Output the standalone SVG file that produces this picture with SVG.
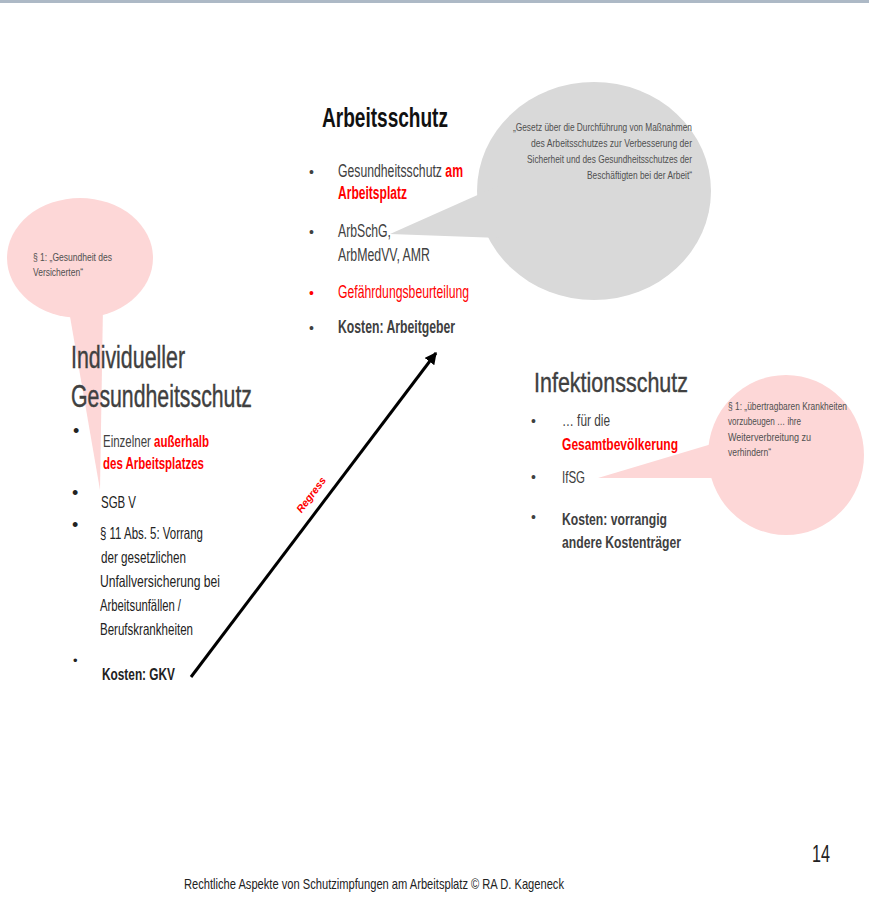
<svg xmlns="http://www.w3.org/2000/svg" width="869" height="897" viewBox="0 0 869 897">
<defs>
<style>
text{font-family:"Liberation Sans Narrow","Liberation Sans",Arial,sans-serif;}
.g{fill:#404040}
.k{fill:#222}
.r{fill:#ff0000}
.b{font-weight:bold}
.h{stroke:#404040;stroke-width:0.4}
.s{font-size:17.5px}
.m{font-size:16.5px}
.c{font-size:11.5px;fill:#505050}
.pink{fill:#fdd7d7}
.grey{fill:#d9d9d9}
</style>
<marker id="ah" viewBox="0 0 10 10" refX="9" refY="5" markerWidth="4" markerHeight="4" orient="auto" markerUnits="strokeWidth">
<path d="M0,0 L10,5 L0,10 z" fill="#000"/>
</marker>
</defs>
<rect width="869" height="897" fill="#fff"/>
<rect x="0" y="0" width="869" height="3" fill="#adb9c6"/>

<g id="callout-arbschg">
<ellipse class="grey" cx="594" cy="191" rx="117" ry="109"/>
<polygon class="grey" points="390,234 500,185 500,238"/>
<text class="c" x="513" y="131" textLength="179" lengthAdjust="spacingAndGlyphs">„Gesetz über die Durchführung von Maßnahmen</text>
<text class="c" x="531" y="147" textLength="161" lengthAdjust="spacingAndGlyphs">des Arbeitsschutzes zur Verbesserung der</text>
<text class="c" x="527" y="163" textLength="165" lengthAdjust="spacingAndGlyphs">Sicherheit und des Gesundheitsschutzes der</text>
<text class="c" x="587" y="179" textLength="105" lengthAdjust="spacingAndGlyphs">Beschäftigten bei der Arbeit“</text>
</g>

<g id="callout-sgb">
<ellipse class="pink" cx="80" cy="258" rx="73" ry="60"/>
<polygon class="pink" points="68,305 103,305 100,490"/>
<text class="c" x="33" y="261" textLength="79" lengthAdjust="spacingAndGlyphs">§ 1: „Gesundheit des</text>
<text class="c" x="33" y="276" textLength="50" lengthAdjust="spacingAndGlyphs">Versicherten“</text>
</g>

<g id="callout-ifsg">
<ellipse class="pink" cx="786" cy="455" rx="78" ry="80"/>
<polygon class="pink" points="598,478 725,440 725,478"/>
<text class="c" x="728" y="410" textLength="119" lengthAdjust="spacingAndGlyphs">§ 1: „übertragbaren Krankheiten</text>
<text class="c" x="728" y="425" textLength="73" lengthAdjust="spacingAndGlyphs">vorzubeugen … ihre</text>
<text class="c" x="728" y="441" textLength="83" lengthAdjust="spacingAndGlyphs">Weiterverbreitung zu</text>
<text class="c" x="728" y="456" textLength="43" lengthAdjust="spacingAndGlyphs">verhindern“</text>
</g>

<g id="arbeitsschutz">
<text x="322" y="127" font-size="27" class="b" fill="#111" textLength="126" lengthAdjust="spacingAndGlyphs">Arbeitsschutz</text>
<text class="g" x="309" y="177" font-size="14">•</text>
<text class="g s" x="338" y="177" textLength="125" lengthAdjust="spacingAndGlyphs">Gesundheitsschutz <tspan class="r b">am</tspan></text>
<text class="r s b" x="338" y="199" textLength="69" lengthAdjust="spacingAndGlyphs">Arbeitsplatz</text>
<text class="g" x="309" y="237" font-size="14">•</text>
<text class="g s" x="338" y="237" textLength="53" lengthAdjust="spacingAndGlyphs">ArbSchG,</text>
<text class="g s" x="338" y="261" textLength="92" lengthAdjust="spacingAndGlyphs">ArbMedVV, AMR</text>
<text class="r" x="309" y="298" font-size="14">•</text>
<text class="r s" x="338" y="298" textLength="131" lengthAdjust="spacingAndGlyphs">Gefährdungsbeurteilung</text>
<text class="g" x="309" y="333" font-size="14">•</text>
<text class="g s b" x="338" y="333" textLength="117" lengthAdjust="spacingAndGlyphs">Kosten: Arbeitgeber</text>
</g>

<g id="individueller-gesundheitsschutz">
<text class="g h" x="71" y="368" font-size="31" textLength="114" lengthAdjust="spacingAndGlyphs">Individueller</text>
<text class="g h" x="71" y="407" font-size="31" textLength="181" lengthAdjust="spacingAndGlyphs">Gesundheitsschutz</text>
<text class="k" x="73" y="437" font-size="18">•</text>
<text class="g m" x="103" y="447" textLength="106" lengthAdjust="spacingAndGlyphs">Einzelner <tspan class="r b">außerhalb</tspan></text>
<text class="r b m" x="103" y="469" textLength="101" lengthAdjust="spacingAndGlyphs">des Arbeitsplatzes</text>
<text class="k" x="72" y="499" font-size="18">•</text>
<text class="k m" x="101" y="508" textLength="35" lengthAdjust="spacingAndGlyphs">SGB V</text>
<text class="k" x="72" y="531" font-size="18">•</text>
<text class="k m" x="100" y="539" textLength="103" lengthAdjust="spacingAndGlyphs">§ 11 Abs. 5: Vorrang</text>
<text class="k m" x="101" y="563" textLength="85" lengthAdjust="spacingAndGlyphs">der gesetzlichen</text>
<text class="k m" x="100" y="587" textLength="120" lengthAdjust="spacingAndGlyphs">Unfallversicherung bei</text>
<text class="k m" x="100" y="611" textLength="81" lengthAdjust="spacingAndGlyphs">Arbeitsunfällen /</text>
<text class="k m" x="100" y="635" textLength="93" lengthAdjust="spacingAndGlyphs">Berufskrankheiten</text>
<text class="k" x="73" y="665" font-size="13">•</text>
<text class="k b m" x="102" y="680" textLength="73" lengthAdjust="spacingAndGlyphs">Kosten: GKV</text>
</g>

<g id="infektionsschutz">
<text class="g h" x="534" y="392" font-size="28" textLength="154" lengthAdjust="spacingAndGlyphs">Infektionsschutz</text>
<text class="g" x="531" y="426" font-size="14">•</text>
<text class="g m" x="562" y="426" textLength="48" lengthAdjust="spacingAndGlyphs">… für die</text>
<text class="r m b" x="562" y="450" textLength="116" lengthAdjust="spacingAndGlyphs">Gesamtbevölkerung</text>
<text class="g" x="531" y="482" font-size="14">•</text>
<text class="g m" x="562" y="483" textLength="23" lengthAdjust="spacingAndGlyphs">IfSG</text>
<text class="g" x="531" y="522" font-size="14">•</text>
<text class="g m b" x="562" y="525" textLength="105" lengthAdjust="spacingAndGlyphs">Kosten: vorrangig</text>
<text class="g m b" x="562" y="548" textLength="119" lengthAdjust="spacingAndGlyphs">andere Kostenträger</text>
</g>

<g id="connectors">
<line x1="191" y1="677" x2="436" y2="353" stroke="#000" stroke-width="3" marker-end="url(#ah)"/>
<text class="r b" x="0" y="0" font-size="10.5" font-style="italic" text-anchor="middle" transform="translate(314,497) rotate(-53)">Regress</text>
</g>

<g id="footer">
<text class="k" x="184" y="889" font-size="15" textLength="380" lengthAdjust="spacingAndGlyphs">Rechtliche Aspekte von Schutzimpfungen am Arbeitsplatz © RA D. Kageneck</text>
<text class="k" x="812" y="862" font-size="24" textLength="18" lengthAdjust="spacingAndGlyphs">14</text>
</g>
</svg>
